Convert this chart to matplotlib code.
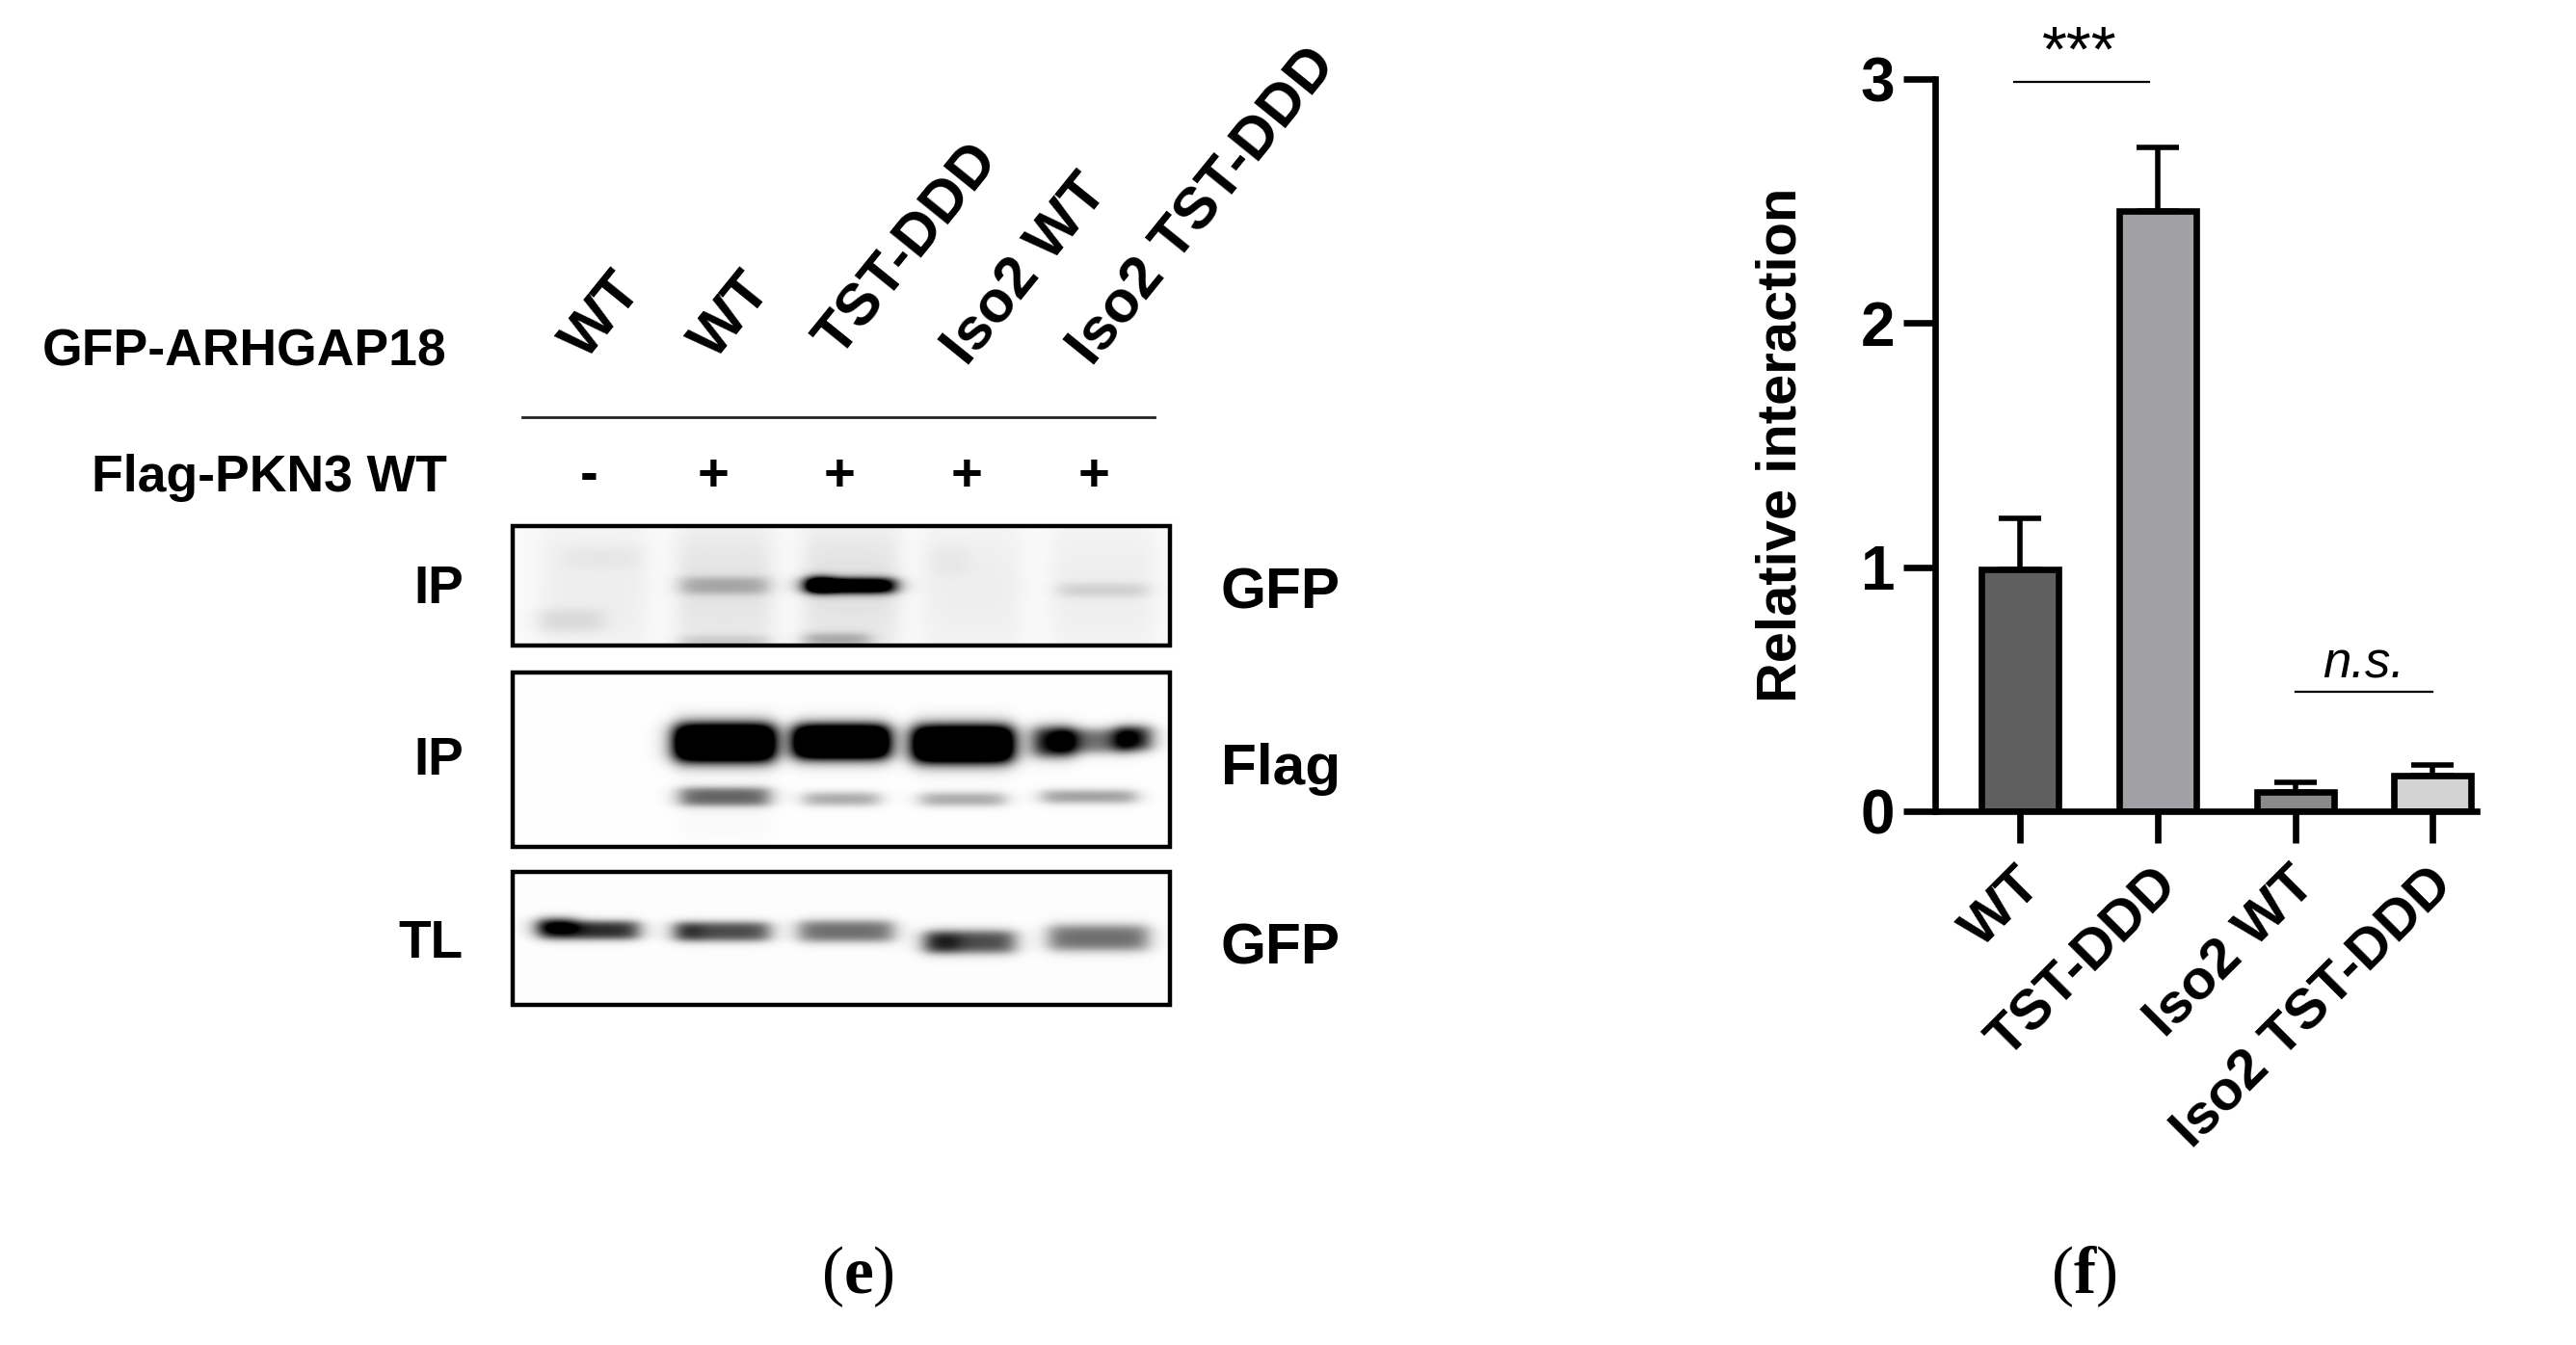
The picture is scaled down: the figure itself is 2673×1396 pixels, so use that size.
import numpy as np
import matplotlib
matplotlib.use('Agg')
import matplotlib.pyplot as plt
from matplotlib.patches import Rectangle
from matplotlib.transforms import ScaledTranslation

W, H = 2673, 1396

# panel f values
groups = ['WT', 'TST-DDD', 'Iso2 WT', 'Iso2 TST-DDD']
means = [0.99, 2.46, 0.08, 0.145]
errs = [0.21, 0.26, 0.04, 0.045]
colors = ['#5f5f5f', '#a1a1a5', '#8a8a8a', '#d3d3d3']

# panel e labels
lanes = ['WT', 'WT', 'TST-DDD', 'Iso2 WT', 'Iso2 TST-DDD']
flag = ['-', '+', '+', '+', '+']

# blot bands: (centre x, centre y, half width, half height, strength)
bands_gfp_ip = [
    (240, 260, 110, 170, 0.045), (190, 360, 70, 32, 0.09), (260, 170, 80, 30, 0.035),
    (520, 260, 100, 170, 0.085), (520, 255, 92, 24, 0.26), (520, 425, 95, 18, 0.16),
    (790, 260, 100, 170, 0.09), (790, 255, 92, 20, 1.5), (722, 250, 22, 24, 0.7), (760, 418, 70, 18, 0.3),
    (1050, 260, 100, 170, 0.045), (1000, 180, 40, 40, 0.035),
    (1330, 260, 105, 170, 0.045), (1330, 268, 95, 18, 0.13),
]
bands_flag_ip = [
    (520, 728, 105, 52, 2.0), (770, 725, 100, 47, 2.0), (1030, 732, 105, 51, 2.0),
    (1225, 725, 42, 42, 1.05), (1310, 722, 80, 34, 0.55), (1395, 714, 35, 34, 1.0),
    (520, 890, 95, 26, 0.62), (770, 897, 80, 18, 0.36), (1030, 898, 90, 18, 0.36), (1300, 890, 100, 18, 0.4),
    (520, 960, 95, 60, 0.02),
]
bands_gfp_tl = [
    (230, 1292, 105, 26, 0.85), (160, 1277, 40, 24, 0.5),
    (515, 1296, 100, 27, 0.72), (440, 1296, 25, 24, 0.2),
    (780, 1295, 100, 30, 0.58),
    (1045, 1327, 95, 32, 0.72), (985, 1330, 35, 28, 0.25),
    (1320, 1315, 105, 36, 0.58),
]

# (x0, x1, y0, y1, background, bands)
panels = [
    (532, 1214, 546, 670, 0.975, bands_gfp_ip),
    (532, 1214, 698, 879, 0.995, bands_flag_ip),
    (532, 1214, 905, 1043, 0.992, bands_gfp_tl),
]


def blot(x0, x1, y0, y1, bg, bands):
    # coordinates the bands were read in (zoomed crop of the blots)
    u = (np.arange(x0, x1) + 0.5 - 500) * 2.063
    v = (np.arange(y0, y1) + 0.5 - 520) * 2.9
    uu, vv = np.meshgrid(u, v)
    dens = np.zeros_like(uu)
    for cx, cy, hw, hh, s in bands:
        soft = 24
        bx = 0.5 * (np.tanh((uu - cx + hw) / soft) - np.tanh((uu - cx - hw) / soft))
        vsoft = max(hh * 0.5, 13)
        by = 0.5 * (np.tanh((vv - cy + hh) / vsoft) - np.tanh((vv - cy - hh) / vsoft))
        dens += s * bx * by
    return np.clip(bg - dens, 0, 1)


plt.rcParams['font.family'] = ['Liberation Sans', 'DejaVu Sans']
plt.rcParams['mathtext.fontset'] = 'custom'
plt.rcParams['mathtext.bf'] = 'Liberation Serif:bold'
plt.rcParams['mathtext.rm'] = 'Liberation Serif'

fig = plt.figure(figsize=(W / 100, H / 100), dpi=100)

# overlay in pixel coordinates for the blot panel and the captions
ov = fig.add_axes([0, 0, 1, 1])
for x0, x1, y0, y1, bg, bands in panels:
    ov.imshow(blot(x0, x1, y0, y1, bg, bands), cmap='gray', vmin=0, vmax=1, extent=(x0, x1, y1, y0),
              aspect='auto', interpolation='bilinear')
    ov.add_patch(Rectangle((x0, y0), x1 - x0, y1 - y0, fill=False, ec='black', lw=3.2))
ov.set_xlim(0, W)
ov.set_ylim(H, 0)
ov.axis('off')

fs = 38.5
lane_x = [611, 740, 871, 1003, 1135]
start_x = [596, 730, 859, 992, 1122]
start_y = [365, 365, 363, 372, 372]

for lab, x, y in zip(lanes, start_x, start_y):
    ov.text(x, y, lab, fontsize=44, fontweight='bold', rotation=51, rotation_mode='anchor', ha='left', va='center')
for sign, x in zip(flag, lane_x):
    ov.text(x, 495, sign, fontsize=fs + 2, fontweight='bold', ha='center', va='center')
ov.plot([542, 1198], [433, 433], color='#222222', lw=2)

ov.text(464, 366, 'GFP-ARHGAP18', fontsize=fs, fontweight='bold', ha='right', va='center')
ov.text(464, 496, 'Flag-PKN3 WT', fontsize=fs, fontweight='bold', ha='right', va='center')
for lab, y in zip(['IP', 'IP', 'TL'], [612, 790, 980]):
    ov.text(481, y, lab, fontsize=fs + 1, fontweight='bold', ha='right', va='center')
for lab, y in zip(['GFP', 'Flag', 'GFP'], [616, 799, 985]):
    ov.text(1267, y, lab, fontsize=fs + 5, fontweight='bold', ha='left', va='center')

ov.text(890, 1325, r'($\mathbf{e}$)', fontsize=50, family='Liberation Serif', ha='center', va='center')
ov.text(2162, 1325, r'($\mathbf{f}$)', fontsize=50, family='Liberation Serif', ha='center', va='center')

# bar chart, axes placed on the pixel box of the reference
ax = fig.add_axes([2008 / W, 1 - 842 / H, (2570 - 2008) / W, (842 - 82) / H])
ax.patch.set_alpha(0)
pos = np.arange(len(groups))
lw = 4.8
ax.bar(pos, means, width=0.56, color=colors, edgecolor='black', linewidth=lw, zorder=2)
ax.errorbar(pos, means, yerr=[np.zeros(4), errs], fmt='none', ecolor='black', elinewidth=4,
            capsize=15.5, capthick=4, zorder=1)
ax.set_xlim(-0.617, 3.32)
ax.set_ylim(0, 3)
ax.set_yticks([0, 1, 2, 3])
ax.set_xticks(pos)
ax.set_xticklabels(groups, rotation=45, rotation_mode='anchor', ha='right', va='center', fontsize=42, fontweight='bold')
ax.set_yticklabels(['0', '1', '2', '3'], fontsize=46, fontweight='bold')
ax.tick_params(axis='y', length=24, width=lw, pad=6)
ax.tick_params(axis='x', length=24, width=lw, pad=25)
# labels sit a little to the right of their ticks in the reference
shift = ScaledTranslation(13 / 100, 0, fig.dpi_scale_trans)
for lab in ax.get_xticklabels():
    lab.set_transform(lab.get_transform() + shift)
for side in ['top', 'right']:
    ax.spines[side].set_visible(False)
for side in ['left', 'bottom']:
    ax.spines[side].set_linewidth(lw)
ax.set_ylabel('Relative interaction', fontsize=41.7, fontweight='bold', va='center')
ax.yaxis.set_label_coords((1849 - 2008) / 562, (842 - 462) / 760)

# significance marks
ax.plot([-0.04, 0.94], [2.987, 2.987], color='black', lw=1.6, clip_on=False)
ax.text(0.43, 3.10, '***', fontsize=48, ha='center', va='center', clip_on=False)
ax.plot([2, 3], [0.491, 0.491], color='black', lw=1.6, clip_on=False)
ax.text(2.5, 0.60, 'n.s.', fontsize=38, style='italic', ha='center', va='center', clip_on=False)

fig.savefig('out.png', dpi=100)
